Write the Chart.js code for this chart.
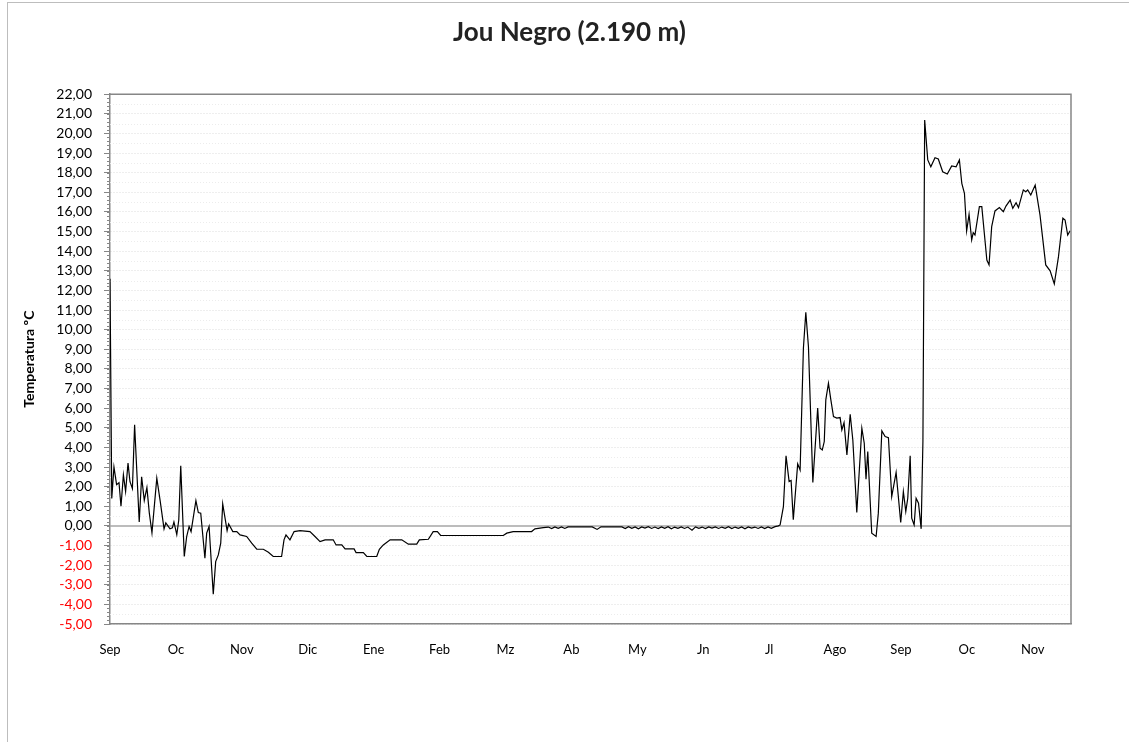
<!DOCTYPE html>
<html>
<head>
<meta charset="utf-8">
<script src="https://cdn.jsdelivr.net/npm/chart.js@4.4.1/dist/chart.umd.min.js"></script>
<style>
    body { margin: 0; background: #fff; }
    #frame { position: absolute; left: 7px; top: 2px; width: 1300px; height: 900px; border: 1px solid #bdbdbd; }
    #wrap { position: absolute; left: 0; top: 0; width: 1129px; height: 742px; }
</style>
</head>
<body>
<div id="frame"></div>
<div id="wrap"><canvas id="myChart"></canvas></div>
<script>
// month labels, one every 30 days on the x axis
const monthLabels = ['Sep', 'Oc', 'Nov', 'Dic', 'Ene', 'Feb', 'Mz', 'Ab', 'My', 'Jn', 'Jl', 'Ago', 'Sep', 'Oc', 'Nov'];

// day since start of the record
const days = [
    0, 0.8, 1.8, 3.0, 4.1, 5.0, 6.1, 7.1, 8.2, 9.1, 10.2, 11.2, 13.3, 14.4, 15.6, 16.8, 17.9, 19.1,
    21.3, 22.8, 24.6, 25.4, 27.3, 28.4, 29.1, 30.4, 31.3, 32.2, 33.8, 34.9, 36.0, 36.9, 39.1, 40.2,
    41.3, 43.2, 44.0, 45.1, 47.0, 48.1, 49.3, 50.4, 51.3, 53.3, 54.0, 55.9, 57.7, 59.2, 62.2, 64.5,
    66.8, 69.8, 72.1, 74.3, 77.4, 78.1, 79.2, 80.1, 81.9, 83.8, 86.5, 91.0, 93.3, 95.6, 97.9, 101.6,
    102.9, 105.5, 107.0, 111.1, 112.0, 115.3, 116.9, 121.4, 122.6, 124.4, 127.5, 132.8, 135.8, 139.6,
    140.8, 144.9, 147.1, 149.0, 150.5, 179.0, 180.6, 183.5, 191.9, 193.4, 197.2,
    199.5, 201.0, 202.5, 204.0, 205.5, 207.0, 208.5, 219.5, 221.7, 223.5, 233.0,
    234.5, 236.0, 237.5, 239.0, 240.5, 242.0, 243.5, 245.0, 246.5, 248.0, 249.5, 251.0, 252.5, 254.0,
    255.5, 257.0, 258.5, 260.0, 261.5, 263.0, 264.9, 266.5, 268.0, 269.5, 271.0, 272.5, 274.0, 275.5,
    277.0, 278.5, 280.0, 281.5, 283.0, 284.5, 286.0, 287.5, 289.0, 290.5, 292.0, 293.5, 295.0, 296.5,
    298.0, 299.5, 301.0, 302.7, 304.2,
    305.0, 306.5, 307.7, 309.1, 310.0, 311.0, 313.0, 314.1, 315.6, 316.7, 317.9, 319.9, 322.1, 323.2,
    324.2, 325.1, 325.8, 327.0, 328.1, 329.3, 330.8, 332.3, 333.1, 334.1, 335.4, 336.9, 338.1, 339.9,
    342.2, 343.3, 344.1, 344.9, 346.7, 348.7, 349.7, 351.3, 352.8, 354.3, 355.8, 357.8, 359.9, 361.1,
    362.2, 363.1, 364.2, 364.9, 366.0, 366.9, 368.0, 369.2, 370.0, 370.8,
    372.2, 373.6, 375.5, 377.0, 379.0, 381.1, 383.1, 385.1, 386.6, 387.7, 388.9, 389.9, 391.0, 392.2,
    392.9, 393.7, 395.7, 396.8, 399.1, 400.1, 401.3, 402.8, 404.8, 406.6, 407.8, 409.7, 410.9, 412.4,
    413.5, 415.7, 416.8, 417.7, 419.1, 421.1, 423.3, 425.9, 427.9, 429.8, 431.7, 433.7, 434.7, 435.9, 437.0
];

// temperature, ºC
const temps = [
    12.6, 1.4, 3.0, 2.1, 2.2, 1.0, 2.6, 1.75, 3.2, 2.25, 1.9, 5.15, 0.2, 2.5, 1.3, 1.95, 0.65, -0.35,
    2.43, 1.3, -0.15, 0.15, -0.15, -0.1, 0.2, -0.45, 0.3, 3.06, -1.56, -0.54, -0.03, -0.29, 1.29, 0.68,
    0.65, -1.65, -0.37, -0.03, -3.48, -1.82, -1.48, -0.88, 1.12, -0.24, 0.1, -0.29, -0.29, -0.46, -0.54, -0.88,
    -1.19, -1.19, -1.34, -1.56, -1.56, -1.56, -0.71, -0.46, -0.71, -0.29, -0.24, -0.29, -0.54, -0.8, -0.71, -0.71,
    -0.97, -0.97, -1.17, -1.17, -1.36, -1.36, -1.56, -1.56, -1.19, -0.97, -0.71, -0.71, -0.93, -0.93,
    -0.71, -0.68, -0.29, -0.29, -0.49, -0.49, -0.37, -0.29, -0.29, -0.15, -0.09,
    -0.06, -0.14, -0.05, -0.12, -0.05, -0.13, -0.05, -0.05, -0.18, -0.05, -0.05,
    -0.14, -0.04, -0.12, -0.05, -0.15, -0.05, -0.11, -0.04, -0.13, -0.06, -0.14, -0.05, -0.12, -0.04,
    -0.15, -0.06, -0.12, -0.05, -0.13, -0.06, -0.22, -0.05, -0.12, -0.06, -0.14, -0.05, -0.11, -0.05,
    -0.13, -0.06, -0.12, -0.04, -0.14, -0.06, -0.12, -0.05, -0.15, -0.05, -0.11, -0.06, -0.13, -0.05,
    -0.14, -0.05, -0.12, -0.04, 0.0,
    0.05, 0.98, 3.57, 2.26, 2.31, 0.31, 3.16, 2.85, 9.05, 10.88, 9.13, 2.21, 6.0, 3.96,
    3.87, 4.3, 6.42, 7.27, 6.42, 5.57, 5.49, 5.52, 4.89, 5.26, 3.62, 5.69, 4.38, 0.68,
    4.98, 4.21, 2.38, 3.79, -0.37, -0.54, 0.65, 4.84, 4.55, 4.5, 1.49, 2.72, 0.17, 1.75,
    0.73, 1.41, 3.57, 0.39, 0.05, 1.41, 1.16, -0.15, 4.3, 20.68,
    18.65, 18.3, 18.76, 18.7, 18.05, 17.93, 18.34, 18.3, 18.65, 17.46, 16.95, 15.04, 15.88, 14.57,
    14.94, 14.82, 16.27, 16.27, 13.55, 13.3, 15.25, 16.05, 16.22, 16.01, 16.3, 16.6, 16.18, 16.47,
    16.22, 17.12, 17.03, 17.12, 16.86, 17.37, 15.84, 13.3, 13.0, 12.33, 13.72, 15.68, 15.59, 14.82, 15.04
];

const yMin = -5;
const yMax = 22;
const xMax = 437.4;

const points = days.map((d, i) => ({ x: d, y: temps[i] }));

// frame of the plot area (top and right), faint half grid, zero line, minor ticks
const plotFrame = {
    id: 'plotFrame',
    beforeDatasetsDraw(chart) {
        const { ctx, chartArea, scales } = chart;
        ctx.save();
        ctx.strokeStyle = '#ececec';
        ctx.lineWidth = 1;
        ctx.setLineDash([1, 2]);
        for (let v = yMin + 0.5; v < yMax; v += 1) {
            const y = Math.round(scales.y.getPixelForValue(v)) + 0.5;
            ctx.beginPath();
            ctx.moveTo(chartArea.left, y);
            ctx.lineTo(chartArea.right, y);
            ctx.stroke();
        }
        ctx.setLineDash([]);
        const y0 = scales.y.getPixelForValue(0);
        ctx.strokeStyle = '#a6a6a6';
        ctx.lineWidth = 1.5;
        ctx.beginPath();
        ctx.moveTo(chartArea.left, y0);
        ctx.lineTo(chartArea.right, y0);
        ctx.stroke();
        ctx.restore();
    },
    afterDraw(chart) {
        const { ctx, chartArea, scales } = chart;
        ctx.save();
        ctx.strokeStyle = '#868686';
        ctx.lineWidth = 1.5;
        ctx.beginPath();
        ctx.moveTo(chartArea.left, chartArea.top);
        ctx.lineTo(chartArea.right, chartArea.top);
        ctx.lineTo(chartArea.right, chartArea.bottom);
        ctx.stroke();
        ctx.lineWidth = 1;
        for (let v = yMin; v <= yMax + 0.01; v += 0.2) {
            const y = Math.round(scales.y.getPixelForValue(v)) + 0.5;
            ctx.beginPath();
            ctx.moveTo(chartArea.left - 3, y);
            ctx.lineTo(chartArea.left, y);
            ctx.stroke();
        }
        ctx.restore();
    }
};

const ctx = document.getElementById('myChart').getContext('2d');

const myChart = new Chart(ctx, {
    type: 'line',
    data: {
        datasets: [{
            label: 'Jou Negro',
            data: points,
            borderColor: '#000000',
            borderWidth: 1.2,
            pointRadius: 0,
            tension: 0
        }]
    },
    options: {
        responsive: true,
        maintainAspectRatio: false,
        animation: false,
        layout: { padding: { left: 10, right: 0, top: 0, bottom: 0 } },
        plugins: {
            legend: { display: false },
            tooltip: { enabled: false },
            title: {
                display: true,
                text: 'Jou Negro (2.190 m)',
                color: '#222',
                font: { family: 'Lato', size: 26, weight: 'bold' },
                padding: { top: 17, bottom: 46 }
            }
        },
        scales: {
            x: {
                type: 'linear',
                min: 0,
                max: xMax,
                afterBuildTicks: scale => {
                    scale.ticks = monthLabels.map((m, i) => ({ value: i * 30 }));
                },
                afterFit: scale => { scale.height = 118; },
                ticks: {
                    autoSkip: false,
                    maxRotation: 0,
                    padding: 18,
                    color: '#000',
                    font: { family: 'Lato', size: 13 },
                    callback: (value, index) => monthLabels[index]
                },
                grid: { display: false, drawTicks: false },
                border: { display: true, color: '#868686', width: 1.5 }
            },
            y: {
                min: yMin,
                max: yMax,
                afterFit: scale => { scale.width = 100; },
                ticks: {
                    stepSize: 1,
                    autoSkip: false,
                    padding: 12,
                    font: { family: 'Lato', size: 14 },
                    color: c => (c.tick && c.tick.value < 0) ? '#ff0000' : '#000000',
                    callback: value => value.toFixed(2).replace('.', ',')
                },
                grid: {
                    color: c => (c.tick && c.tick.value === 0) ? 'rgba(0,0,0,0)' : '#dcdcdc',
                    tickColor: '#868686',
                    tickLength: 6,
                    lineWidth: 1
                },
                border: {
                    display: true,
                    color: '#868686',
                    width: 1.5,
                    dash: c => c.tick ? [1, 2] : []
                },
                title: {
                    display: true,
                    text: 'Temperatura ºC',
                    color: '#000',
                    font: { family: 'Lato', size: 14, weight: 'bold' },
                    padding: { top: 11, bottom: 0 }
                }
            },
            // empty right-hand axis: keeps the right margin without shifting the title
            yRight: {
                position: 'right',
                display: true,
                afterFit: scale => { scale.width = 58; },
                ticks: { display: false },
                grid: { display: false, drawTicks: false },
                border: { display: false }
            }
        }
    },
    plugins: [plotFrame]
});
</script>
</body>
</html>
